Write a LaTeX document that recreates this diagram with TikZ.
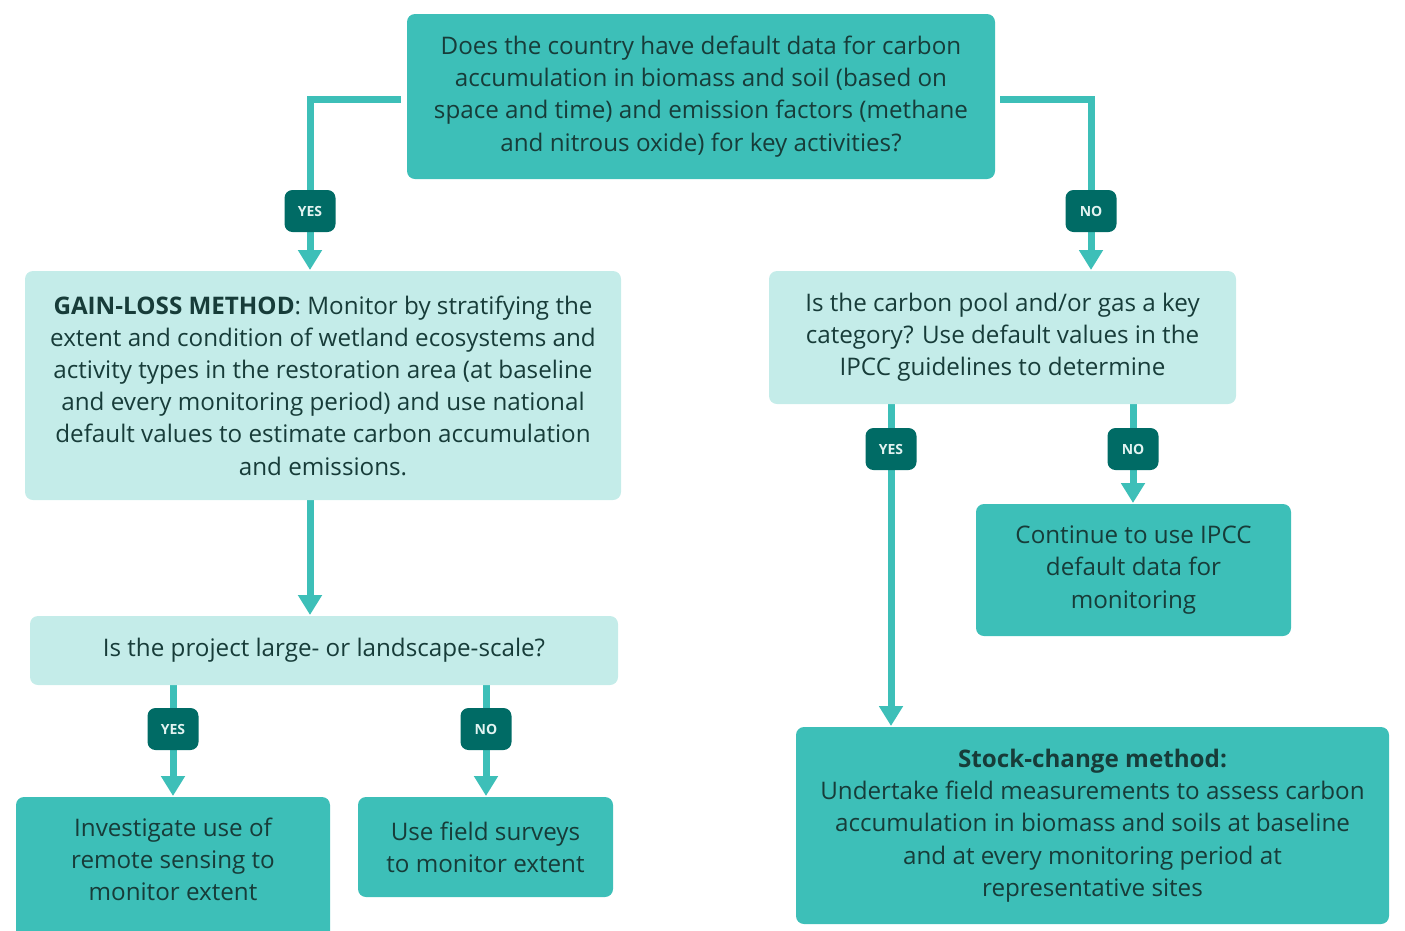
\documentclass[tikz,border=0pt]{standalone}
\usepackage{fontspec}
\setmainfont{Open Sans}
\usetikzlibrary{arrows.meta}
\definecolor{boxteal}{HTML}{3DBFB8}
\definecolor{boxlight}{HTML}{C4ECE9}
\definecolor{labdark}{HTML}{006B65}
\definecolor{inkdark}{HTML}{173C39}
\definecolor{labink}{HTML}{E2F3F1}
\tikzset{
  box/.style={rounded corners=8pt, align=center, text=inkdark, inner sep=0pt,
    font=\fontsize{24.2}{32.2}\selectfont},
  darkbox/.style={box, fill=boxteal},
  lightbox/.style={box, fill=boxlight},
  lab/.style={fill=labdark, rounded corners=8pt, text=labink, minimum width=51pt,
    minimum height=42pt, inner sep=0pt, font=\fontsize{14}{16}\selectfont\bfseries},
  flow/.style={boxteal, line width=7pt, -{Triangle[width=23pt, length=20pt]}}
}
\begin{document}
\begin{tikzpicture}[x=1pt, y=-1pt]
\useasboundingbox (0,0) rectangle (1405,930);
\clip (0,0) rectangle (1405,930);
% connectors first, boxes on top
\draw[flow] (401,99) -| (310,270);
\draw[flow] (1000,99) -| (1091,270);
\draw[flow] (310,500) -- (310,615);
\draw[flow] (891,404) -- (891,726);
\draw[flow] (1133,404) -- (1133,503);
\draw[flow] (173,685) -- (173,796);
\draw[flow] (486,685) -- (486,796);
% question boxes
\node[darkbox, minimum width=588pt, minimum height=165pt] (country) at (701,96.5)
  {Does the country have default data for carbon\\
   accumulation in biomass and soil (based on\\
   space and time) and emission factors (methane\\
   and nitrous oxide) for key activities?};
\node[lightbox, minimum width=596pt, minimum height=229pt] (gainloss) at (323,385.5)
  {\textbf{GAIN-LOSS METHOD}: Monitor by stratifying the\\
   extent and condition of wetland ecosystems and\\
   activity types in the restoration area (at baseline\\
   and every monitoring period) and use national\\
   default values to estimate carbon accumulation\\
   and emissions.};
\node[lightbox, minimum width=467pt, minimum height=133pt] (keycat) at (1002.5,337.5)
  {Is the carbon pool and/or gas a key\\
   category? Use default values in the\\
   IPCC guidelines to determine};
\node[lightbox, minimum width=588pt, minimum height=69pt] (scale) at (324,650.5)
  {Is the project large- or landscape-scale?};
% outcome boxes
\node[darkbox, minimum width=315pt, minimum height=132pt] (ipcc) at (1133.5,570)
  {Continue to use IPCC\\ default data for\\ monitoring};
\node[darkbox, minimum width=314pt, minimum height=150pt, text depth=26pt] (remote) at (173,872)
  {Investigate use of\\ remote sensing to\\ monitor extent};
\node[darkbox, minimum width=255pt, minimum height=100pt] (field) at (485.5,847)
  {Use field surveys\\ to monitor extent};
\node[darkbox, minimum width=593pt, minimum height=197pt] (stock) at (1092.5,825.5)
  {\textbf{Stock-change method:}\\
   Undertake field measurements to assess carbon\\
   accumulation in biomass and soils at baseline\\
   and at every monitoring period at\\
   representative sites};
% yes / no labels
\node[lab] (yesa) at (310,211) {YES};
\node[lab] (noa) at (1091,211) {NO};
\node[lab] (yesb) at (891,449) {YES};
\node[lab] (nob) at (1133,449) {NO};
\node[lab] (yesc) at (173,729) {YES};
\node[lab] (noc) at (486,729) {NO};
\end{tikzpicture}
\end{document}
